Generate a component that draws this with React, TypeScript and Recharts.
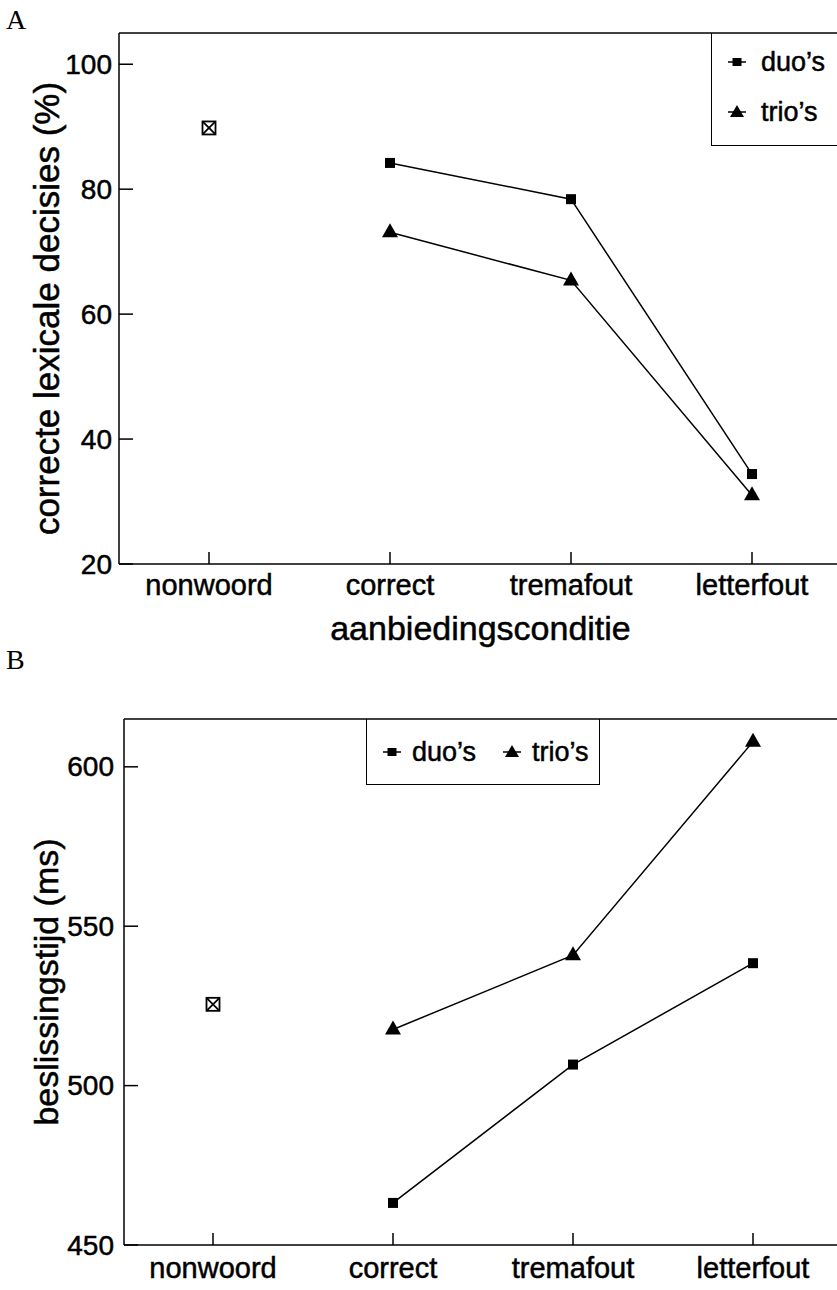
import React from 'react';
import { LineChart, Line, XAxis, YAxis, Legend, ReferenceLine, Label } from 'recharts';

const categories = ['nonwoord', 'correct', 'tremafout', 'letterfout'];

// paneel A: correcte lexicale decisies (%)
const accNonwoord = [89.8, null, null, null];
const accDuo = [null, 84.2, 78.4, 34.4];
const accTrio = [null, 73.1, 65.4, 31.0];
const accTicks = [20, 40, 60, 80, 100];

// paneel B: beslissingstijd (ms)
const rtNonwoord = [525.5, null, null, null];
const rtDuo = [null, 463.2, 506.6, 538.4];
const rtTrio = [null, 517.6, 540.9, 607.9];
const rtTicks = [450, 500, 550, 600];

const SANS = '"Liberation Sans", Arial, Helvetica, sans-serif';
// scanned print looks a little heavier than plain regular
const INK = { fill: '#000', stroke: '#000', strokeWidth: 0.5 };

const dataA = categories.map((c, i) => ({ cond: c, nonwoord: accNonwoord[i], duo: accDuo[i], trio: accTrio[i] }));
const dataB = categories.map((c, i) => ({ cond: c, nonwoord: rtNonwoord[i], duo: rtDuo[i], trio: rtTrio[i] }));

const SquareDot = (p: any) => {
  if (p.cx == null || p.cy == null || p.value == null) return <g key={`s${p.index}`} />;
  return <rect key={`s${p.index}`} x={p.cx - 5} y={p.cy - 5} width={10} height={10} fill="#000" />;
};

const TriangleDot = (p: any) => {
  if (p.cx == null || p.cy == null || p.value == null) return <g key={`t${p.index}`} />;
  const { cx, cy } = p;
  return <polygon key={`t${p.index}`} points={`${cx},${cy - 9} ${cx - 8},${cy + 5} ${cx + 8},${cy + 5}`} fill="#000" />;
};

const CrossBoxDot = (p: any) => {
  if (p.cx == null || p.cy == null || p.value == null) return <g key={`x${p.index}`} />;
  const { cx, cy } = p;
  const h = 6.5;
  return (
    <g key={`x${p.index}`} stroke="#000" strokeWidth={1.8}>
      <rect x={cx - h} y={cy - h} width={h * 2} height={h * 2} fill="#fff" />
      <line x1={cx - h} y1={cy - h} x2={cx + h} y2={cy + h} />
      <line x1={cx - h} y1={cy + h} x2={cx + h} y2={cy - h} />
    </g>
  );
};

const makeXTick = (dy: number) => (p: any) => (
  <g>
    <line x1={p.x} y1={p.y} x2={p.x} y2={p.y - 12} stroke="#000" strokeWidth={1.5} />
    <text x={p.x} y={p.y + dy} textAnchor="middle" dominantBaseline="central" fontSize={29} fontFamily={SANS} {...INK}>
      {p.payload.value}
    </text>
  </g>
);

const makeYTick = (gap: number) => (p: any) => (
  <g>
    <line x1={p.x} y1={p.y} x2={p.x + 14} y2={p.y} stroke="#000" strokeWidth={1.5} />
    <text x={p.x - gap} y={p.y} textAnchor="end" dominantBaseline="central" fontSize={28} fontFamily={SANS} {...INK}>
      {p.payload.value}
    </text>
  </g>
);

const yTitle = (text: string, dy: number, size: number) => (p: any) => {
  const vb = p.viewBox;
  const x = 46;
  const y = vb.y + vb.height / 2 + dy;
  return (
    <text x={x} y={y} transform={`rotate(-90 ${x} ${y})`} textAnchor="middle" dominantBaseline="central" fontSize={size} fontFamily={SANS} {...INK}>
      {text}
    </text>
  );
};

const xTitle = (text: string) => (p: any) => {
  const vb = p.viewBox;
  return (
    <text x={vb.x + vb.width / 2} y={vb.y + 64} textAnchor="middle" dominantBaseline="central" fontSize={34} fontFamily={SANS} {...INK}>
      {text}
    </text>
  );
};

const MarkerIcon = ({ kind }: { kind: 'square' | 'triangle' }) => (
  <svg width={20} height={18} style={{ display: 'block' }}>
    <line x1={1} y1={9} x2={19} y2={9} stroke="#000" strokeWidth={1.5} />
    {kind === 'square' ? (
      <rect x={5.5} y={5} width={9} height={8} fill="#000" />
    ) : (
      <polygon points="10,2 3,14 17,14" fill="#000" />
    )}
  </svg>
);

const legendText: React.CSSProperties = {
  fontFamily: SANS, fontSize: 27, lineHeight: '30px', color: '#000', WebkitTextStroke: '0.5px #000',
};

const LegendA = () => (
  <div style={{ boxSizing: 'border-box', width: '100%', height: '100%', borderLeft: '1.5px solid #000', borderBottom: '1.5px solid #000', position: 'relative' }}>
    <div style={{ position: 'absolute', left: 15, top: 14, display: 'flex', alignItems: 'center', gap: 14 }}>
      <MarkerIcon kind="square" />
      <span style={legendText}>duo’s</span>
    </div>
    <div style={{ position: 'absolute', left: 15, top: 64, display: 'flex', alignItems: 'center', gap: 14 }}>
      <MarkerIcon kind="triangle" />
      <span style={legendText}>trio’s</span>
    </div>
  </div>
);

const LegendB = () => (
  <div style={{ boxSizing: 'border-box', width: '100%', height: '100%', borderLeft: '1.5px solid #000', borderRight: '1.5px solid #000', borderBottom: '1.5px solid #000', display: 'flex', alignItems: 'center', paddingLeft: 15, gap: 10 }}>
    <MarkerIcon kind="square" />
    <span style={legendText}>duo’s</span>
    <span style={{ width: 6 }} />
    <MarkerIcon kind="triangle" />
    <span style={legendText}>trio’s</span>
  </div>
);

const panelLetter: React.CSSProperties = {
  position: 'absolute', left: 6, fontFamily: '"Liberation Serif", "Times New Roman", serif', fontSize: 28, lineHeight: 1, color: '#000',
};

export default function App() {
  return (
    <div style={{ position: 'fixed', left: 0, top: 0, width: 837, height: 1290, overflow: 'hidden', background: '#fff' }}>
      <div style={{ ...panelLetter, top: 6 }}>A</div>
      <div style={{ ...panelLetter, top: 646 }}>B</div>

      <div style={{ position: 'absolute', left: 0, top: 0 }}>
        <LineChart width={842} height={650} data={dataA} margin={{ top: 33, right: 0, bottom: 0, left: 0 }}>
          <XAxis dataKey="cond" height={86} padding={{ left: 90, right: 90 }} tickSize={0} tickMargin={0} interval={0}
            axisLine={{ stroke: '#000', strokeWidth: 1.5 }} tickLine={false} tick={makeXTick(21)}>
            <Label content={xTitle('aanbiedingsconditie')} />
          </XAxis>
          <YAxis type="number" domain={[20, 105]} ticks={accTicks} allowDataOverflow width={119} tickSize={0} tickMargin={0}
            axisLine={{ stroke: '#000', strokeWidth: 1.5 }} tickLine={false} tick={makeYTick(7)}>
            <Label content={yTitle('correcte lexicale decisies (%)', 10, 35)} />
          </YAxis>
          <ReferenceLine y={105} stroke="#000" strokeWidth={1.5} />
          <Legend layout="vertical" align="center" verticalAlign="middle" content={LegendA}
            wrapperStyle={{ left: 711, top: 33, width: 140, height: 113, margin: 0 }} />
          <Line dataKey="nonwoord" stroke="none" dot={CrossBoxDot} isAnimationActive={false} legendType="none" />
          <Line dataKey="duo" stroke="#000" strokeWidth={1.5} dot={SquareDot} activeDot={false} isAnimationActive={false} />
          <Line dataKey="trio" stroke="#000" strokeWidth={1.5} dot={TriangleDot} activeDot={false} isAnimationActive={false} />
        </LineChart>
      </div>

      <div style={{ position: 'absolute', left: 0, top: 640 }}>
        <LineChart width={842} height={650} data={dataB} margin={{ top: 79, right: 0, bottom: 0, left: 0 }}>
          <XAxis dataKey="cond" height={45} padding={{ left: 89, right: 89 }} tickSize={0} tickMargin={0} interval={0}
            axisLine={{ stroke: '#000', strokeWidth: 1.5 }} tickLine={false} tick={makeXTick(23)} />
          <YAxis type="number" domain={[450, 615]} ticks={rtTicks} allowDataOverflow width={124} tickSize={0} tickMargin={0}
            axisLine={{ stroke: '#000', strokeWidth: 1.5 }} tickLine={false} tick={makeYTick(10)}>
            <Label content={yTitle('beslissingstijd (ms)', 0, 34)} />
          </YAxis>
          <ReferenceLine y={615} stroke="#000" strokeWidth={1.5} />
          <Legend layout="vertical" align="center" verticalAlign="middle" content={LegendB}
            wrapperStyle={{ left: 366, top: 79, width: 234, height: 66, margin: 0 }} />
          <Line dataKey="nonwoord" stroke="none" dot={CrossBoxDot} isAnimationActive={false} legendType="none" />
          <Line dataKey="duo" stroke="#000" strokeWidth={1.5} dot={SquareDot} activeDot={false} isAnimationActive={false} />
          <Line dataKey="trio" stroke="#000" strokeWidth={1.5} dot={TriangleDot} activeDot={false} isAnimationActive={false} />
        </LineChart>
      </div>
    </div>
  );
}
